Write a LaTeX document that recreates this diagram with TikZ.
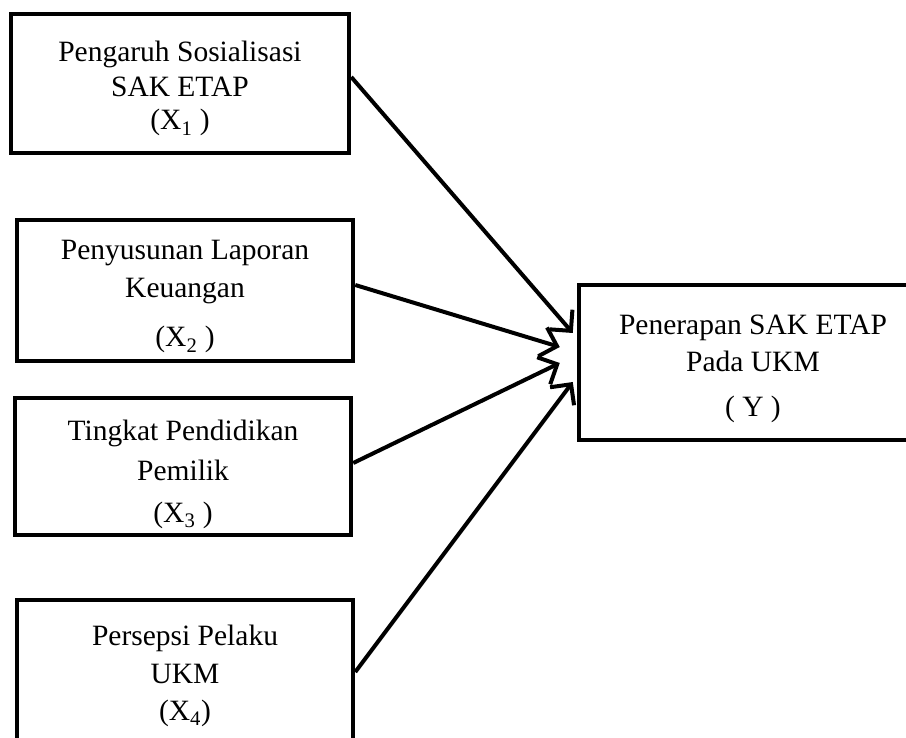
\documentclass[tikz,border=0pt]{standalone}
\usepackage{fontspec}
\setmainfont{Liberation Serif}
\usetikzlibrary{arrows.meta}
\begin{document}
\begin{tikzpicture}[x=1pt,y=-1pt,
    box/.style={draw,line width=4.5pt,rectangle,align=center,inner sep=0pt,
      text depth=8pt,font=\fontsize{29.5}{34}\selectfont},
    link/.style={line width=4pt,-{Straight Barb[length=15pt,width=30pt]}}]
  \useasboundingbox (0,0) rectangle (906,738);
  \clip (0,0) rectangle (906,738);
  % variabel bebas
  \node[box,minimum width=338,minimum height=139,text height=101pt] (x1) at (180,83.5)
    {Pengaruh Sosialisasi\\[1pt]SAK ETAP\\[-1pt](X\textsubscript{1} )};
  \node[box,minimum width=336,minimum height=141,text height=121pt] (x2) at (185,290.5)
    {Penyusunan Laporan\\[4pt]Keuangan\\[15pt](X\textsubscript{2} )};
  \node[box,minimum width=336,minimum height=137,text height=119pt] (x3) at (183,466.5)
    {Tingkat Pendidikan\\[6pt]Pemilik\\[8pt](X\textsubscript{3} )};
  \node[box,minimum width=336,minimum height=160,text height=88pt] (x4) at (185,680)
    {Persepsi Pelaku\\[4pt]UKM\\[3pt](X\textsubscript{4})};
  % variabel terikat
  \node[box,minimum width=348,minimum height=155,text height=117pt] (y) at (753,362.5)
    {Penerapan SAK ETAP\\[3pt]Pada UKM\\[11pt]( Y )};
  \draw[link] ([yshift=6.5pt]x1.east) -- ([xshift=-4pt,yshift=29.5pt]y.west);
  \draw[link] ([yshift=5.5pt]x2.east) -- ([xshift=-17pt,yshift=15.5pt]y.west);
  \draw[link] ([yshift=3.5pt]x3.east) -- ([xshift=-17pt,yshift=-0.5pt]y.west);
  \draw[link] ([yshift=8pt]x4.east) -- ([xshift=-4pt,yshift=-19.5pt]y.west);
\end{tikzpicture}
\end{document}
